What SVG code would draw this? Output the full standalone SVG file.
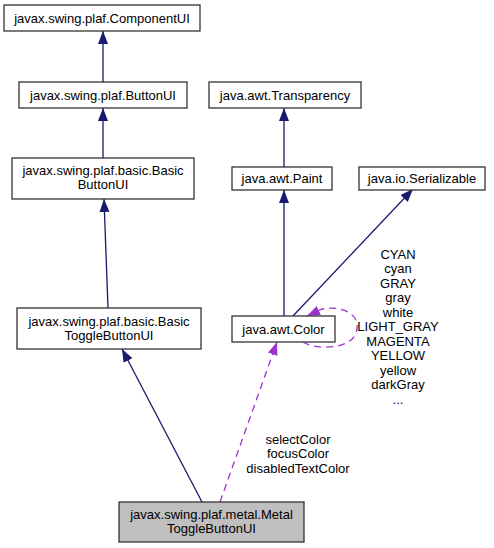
<svg xmlns="http://www.w3.org/2000/svg" width="494" height="548" viewBox="0 0 494 548">
<style>
.n rect{fill:#fff;stroke:#333;stroke-width:1.3}
.n.cur rect{fill:#bfbfbf}
text{font-family:"Liberation Sans",Arial,sans-serif;font-size:13px;fill:#000;text-anchor:middle}
.inh{stroke:#191970;stroke-width:1.3;fill:none;marker-end:url(#ah)}
.use{stroke:#9a32cd;stroke-width:1.3;fill:none;stroke-dasharray:7,5;marker-end:url(#ap)}
</style>
<defs>
<marker id="ah" markerUnits="userSpaceOnUse" markerWidth="14" markerHeight="11" refX="13" refY="5" orient="auto"><path d="M0,0 L13,5 L0,10 z" fill="#191970"/></marker>
<marker id="ap" markerUnits="userSpaceOnUse" markerWidth="14" markerHeight="11" refX="13" refY="5" orient="auto"><path d="M0,0 L13,5 L0,10 z" fill="#9a32cd"/></marker>
</defs>
<rect width="494" height="548" fill="#fff"/>
<g id="edges">
<line class="inh" x1="103" y1="82" x2="103" y2="31"/>
<line class="inh" x1="103" y1="158" x2="103" y2="108"/>
<line class="inh" x1="108" y1="308" x2="104" y2="199"/>
<line class="inh" x1="202" y1="502" x2="122" y2="349"/>
<line class="inh" x1="284" y1="167" x2="284" y2="108"/>
<line class="inh" x1="284" y1="316" x2="284" y2="190"/>
<line class="inh" x1="293" y1="316" x2="413" y2="189"/>
<line class="use" x1="220" y1="502" x2="277" y2="342"/>
<path class="use" d="M303,342 C315,350 350,350 356,333 C362,316 345,305 322,309 L307,316"/>
<g text-anchor="middle">
<text x="298" y="443.5">selectColor</text>
<text x="298" y="458">focusColor</text>
<text x="298" y="472.5">disabledTextColor</text>
<text x="398" y="258.5">CYAN</text>
<text x="398" y="273">cyan</text>
<text x="398" y="287.5">GRAY</text>
<text x="398" y="302">gray</text>
<text x="398" y="316.5">white</text>
<text x="398" y="331">LIGHT_GRAY</text>
<text x="398" y="345.5">MAGENTA</text>
<text x="398" y="360">YELLOW</text>
<text x="398" y="374.5">yellow</text>
<text x="398" y="389">darkGray</text>
<text x="398" y="403.5">...</text>
</g>
</g>
<g id="ComponentUI" class="n"><rect x="4" y="5" width="196" height="26"/><text x="102" y="22.5">javax.swing.plaf.ComponentUI</text></g>
<g id="ButtonUI" class="n"><rect x="19" y="82" width="168" height="26"/><text x="103" y="99.5">javax.swing.plaf.ButtonUI</text></g>
<g id="BasicButtonUI" class="n"><rect x="12" y="158" width="182" height="41"/><text x="103" y="174.5">javax.swing.plaf.basic.Basic</text><text x="103" y="188.5">ButtonUI</text></g>
<g id="BasicToggleButtonUI" class="n"><rect x="17" y="308" width="184" height="41"/><text x="109" y="325.5">javax.swing.plaf.basic.Basic</text><text x="109" y="339.5">ToggleButtonUI</text></g>
<g id="MetalToggleButtonUI" class="n cur"><rect x="119" y="502" width="185" height="40"/><text x="211.5" y="519">javax.swing.plaf.metal.Metal</text><text x="211.5" y="533">ToggleButtonUI</text></g>
<g id="Transparency" class="n"><rect x="209" y="82" width="152" height="26"/><text x="285" y="99.5">java.awt.Transparency</text></g>
<g id="Paint" class="n"><rect x="232" y="167" width="100" height="23"/><text x="282" y="183">java.awt.Paint</text></g>
<g id="Serializable" class="n"><rect x="359" y="167" width="126" height="23"/><text x="422" y="183">java.io.Serializable</text></g>
<g id="Color" class="n"><rect x="232" y="316" width="103" height="26"/><text x="283.5" y="333.5">java.awt.Color</text></g>
</svg>
